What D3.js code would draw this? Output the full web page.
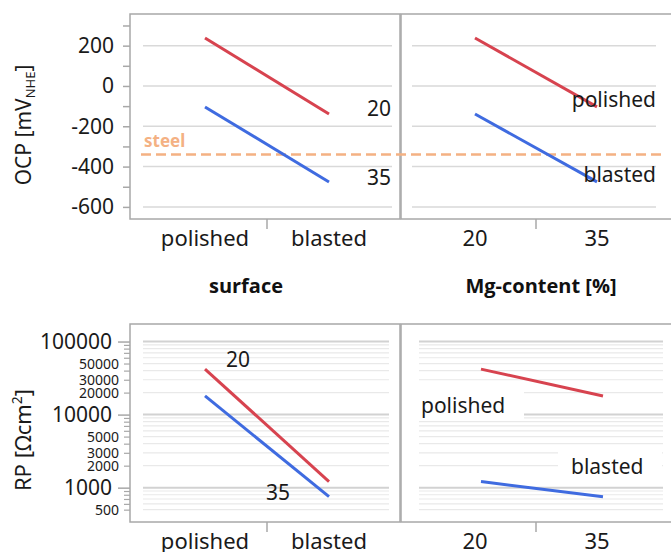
<!DOCTYPE html>
<html>
<head>
<meta charset="utf-8">
<script src="https://cdn.jsdelivr.net/npm/d3@7"></script>
<style>
  body { margin: 0; background: #fff; }
  svg { font-family: "Noto Sans", "Open Sans", sans-serif; }
</style>
</head>
<body>
<div id="chart"></div>
<script>
// data
var surfaces = ["polished", "blasted"];
var mgContents = ["20", "35"];
var ocpPolished = [238, -104];   // Mg 20, Mg 35
var ocpBlasted = [-139, -476];
var rpPolished = [41900, 18000];
var rpBlasted = [1210, 753];
var steelOcp = -340;
var ocpTicks = [-600, -500, -400, -300, -200, -100, 0, 100, 200, 300];
var ocpLabels = [-600, -400, -200, 0, 200];
var rpMajor = [1000, 10000, 100000];
var rpMinorLabels = [500, 2000, 3000, 5000, 20000, 30000, 50000];

var W = 671, H = 552;
var red = "#d7434f", blue = "#3f6be0", steelColor = "#f4b183";
var frameColor = "#a8a8a8";

var svg = d3.select("#chart").append("svg")
    .attr("width", W)
    .attr("height", H);

// panel boxes
var leftX = [130, 400], rightX = [401, 673];
var topY = [14, 219], botY = [324, 522];

// scales
var yOcp = d3.scaleLinear().domain([-660, 357]).range([topY[1], topY[0]]);
var yRp = d3.scaleLog().domain([Math.pow(10, 2.53), Math.pow(10, 5.24)]).range([botY[1], botY[0]]);
var xSurf = d3.scaleBand().domain(surfaces).range([143, 391]);
var xMg = d3.scaleBand().domain(mgContents).range([414, 658]);
var xMgLow = d3.scaleBand().domain(mgContents).range([420, 664]);

function cx(scale, d) { return scale(d) + scale.bandwidth() / 2; }

// gridlines
var rpGrid = [];
[100, 1000, 10000].forEach(function (dec) {
    for (var k = 1; k < 10; k++) {
        var v = dec * k;
        if (v >= 500 && v <= 100000) rpGrid.push(v);
    }
});
rpGrid.push(100000);

function ocpGrid(x0, x1) {
    svg.append("g").selectAll("line")
        .data(ocpLabels)
        .enter().append("line")
        .attr("x1", x0).attr("x2", x1)
        .attr("y1", function (d) { return yOcp(d); })
        .attr("y2", function (d) { return yOcp(d); })
        .attr("stroke", "#d9d9d9")
        .attr("stroke-width", 1.5);
}
function rpGridLines(x0, x1) {
    svg.append("g").selectAll("line")
        .data(rpGrid)
        .enter().append("line")
        .attr("x1", x0).attr("x2", x1)
        .attr("y1", function (d) { return yRp(d); })
        .attr("y2", function (d) { return yRp(d); })
        .attr("stroke", function (d) { return rpMajor.indexOf(d) >= 0 ? "#d2d2d2" : "#e9e9e9"; })
        .attr("stroke-width", function (d) { return rpMajor.indexOf(d) >= 0 ? 2 : 1.2; });
}
ocpGrid(143, 392);
ocpGrid(412, 656);
rpGridLines(143, 389);
rpGridLines(419, 663);

// frames
[[leftX, topY], [rightX, topY], [leftX, botY], [rightX, botY]].forEach(function (p) {
    svg.append("rect")
        .attr("x", p[0][0]).attr("y", p[1][0])
        .attr("width", p[0][1] - p[0][0])
        .attr("height", p[1][1] - p[1][0])
        .attr("fill", "none")
        .attr("stroke", frameColor)
        .attr("stroke-width", 1.5);
});

// x axis separator ticks
[[xSurf, topY], [xMg, topY], [xSurf, botY], [xMg, botY]].forEach(function (p) {
    var s = p[0];
    var mid = (cx(s, s.domain()[0]) + cx(s, s.domain()[1])) / 2;
    svg.append("line")
        .attr("x1", mid).attr("x2", mid)
        .attr("y1", p[1][1]).attr("y2", p[1][1] + 10)
        .attr("stroke", frameColor).attr("stroke-width", 1.5);
});

// x tick labels
function xLabels(scale, y) {
    svg.append("g").selectAll("text")
        .data(scale.domain())
        .enter().append("text")
        .attr("x", function (d) { return cx(scale, d); })
        .attr("y", y)
        .attr("text-anchor", "middle")
        .attr("font-size", 22)
        .attr("fill", "#1a1a1a")
        .text(function (d) { return d; });
}
xLabels(xSurf, 246);
xLabels(xMg, 246);
xLabels(xSurf, 549);
xLabels(xMg, 549);

// x titles
svg.append("text").attr("x", 246).attr("y", 293).attr("text-anchor", "middle")
    .attr("font-family", "Open Sans, sans-serif")
    .attr("font-size", 20).attr("font-weight", "bold").attr("fill", "#111").text("surface");
svg.append("text").attr("x", 541).attr("y", 293).attr("text-anchor", "middle")
    .attr("font-family", "Open Sans, sans-serif")
    .attr("font-size", 20).attr("font-weight", "bold").attr("fill", "#111").text("Mg-content [%]");

// OCP y axis
var ocpAxis = svg.append("g")
    .attr("transform", "translate(" + leftX[0] + ",0)")
    .call(d3.axisLeft(yOcp)
        .tickValues(ocpTicks)
        .tickSize(7)
        .tickPadding(9)
        .tickFormat(function (d) { return ocpLabels.indexOf(d) >= 0 ? String(d) : ""; }));
ocpAxis.select(".domain").remove();
ocpAxis.selectAll("line").attr("stroke", frameColor).attr("stroke-width", 1.5);
ocpAxis.selectAll("text").attr("font-size", 21).attr("fill", "#1a1a1a")
    .attr("font-family", "Noto Sans, sans-serif");

// RP y axis: minor then major
var rpMinorAxis = svg.append("g")
    .attr("transform", "translate(" + leftX[0] + ",0)")
    .call(d3.axisLeft(yRp)
        .tickValues(rpGrid.filter(function (d) { return rpMajor.indexOf(d) < 0; }))
        .tickSize(6)
        .tickPadding(5)
        .tickFormat(function (d) { return rpMinorLabels.indexOf(d) >= 0 ? String(d) : ""; }));
rpMinorAxis.select(".domain").remove();
rpMinorAxis.selectAll("line").attr("stroke", frameColor).attr("stroke-width", 1.2);
rpMinorAxis.selectAll("text").attr("font-size", 14).attr("fill", "#1a1a1a")
    .attr("font-family", "Noto Sans, sans-serif");

var rpMajorAxis = svg.append("g")
    .attr("transform", "translate(" + leftX[0] + ",0)")
    .call(d3.axisLeft(yRp)
        .tickValues(rpMajor)
        .tickSize(12)
        .tickPadding(6)
        .tickFormat(function (d) { return String(d); }));
rpMajorAxis.select(".domain").remove();
rpMajorAxis.selectAll("line").attr("stroke", frameColor).attr("stroke-width", 1.5);
rpMajorAxis.selectAll("text").attr("font-size", 21).attr("fill", "#1a1a1a")
    .attr("font-family", "Noto Sans, sans-serif");

// y titles
var t1 = svg.append("text")
    .attr("transform", "translate(31,125) rotate(-90)")
    .attr("text-anchor", "middle")
    .attr("font-size", 21)
    .attr("fill", "#1a1a1a");
t1.append("tspan").text("OCP [mV");
t1.append("tspan").attr("font-size", 13).attr("dy", 4).text("NHE");
t1.append("tspan").attr("dy", -4).text("]");

var t2 = svg.append("text")
    .attr("transform", "translate(31,440) rotate(-90)")
    .attr("text-anchor", "middle")
    .attr("font-size", 22)
    .attr("fill", "#1a1a1a");
t2.append("tspan").text("RP [\u03A9cm");
t2.append("tspan").attr("font-size", 14).attr("dy", -9).text("2");
t2.append("tspan").attr("dy", 9).text("]");

// steel reference line
svg.append("line")
    .attr("x1", 141).attr("x2", 665)
    .attr("y1", yOcp(steelOcp)).attr("y2", yOcp(steelOcp))
    .attr("stroke", steelColor)
    .attr("stroke-width", 2.5)
    .attr("stroke-dasharray", "10,5");
svg.append("text").attr("x", 144).attr("y", yOcp(steelOcp) - 7)
    .attr("font-size", 17).attr("font-weight", "bold").attr("fill", steelColor).text("steel");

// interaction lines
var line = d3.line();
function drawLine(pts, color) {
    svg.append("path")
        .attr("d", line(pts))
        .attr("fill", "none")
        .attr("stroke", color)
        .attr("stroke-width", 3);
}
// by surface, one line per Mg content
drawLine(surfaces.map(function (s, i) { return [cx(xSurf, s), yOcp([ocpPolished[0], ocpBlasted[0]][i])]; }), red);
drawLine(surfaces.map(function (s, i) { return [cx(xSurf, s), yOcp([ocpPolished[1], ocpBlasted[1]][i])]; }), blue);
drawLine(surfaces.map(function (s, i) { return [cx(xSurf, s), yRp([rpPolished[0], rpBlasted[0]][i])]; }), red);
drawLine(surfaces.map(function (s, i) { return [cx(xSurf, s), yRp([rpPolished[1], rpBlasted[1]][i])]; }), blue);
// by Mg content, one line per surface
drawLine(mgContents.map(function (m, i) { return [cx(xMg, m), yOcp(ocpPolished[i])]; }), red);
drawLine(mgContents.map(function (m, i) { return [cx(xMg, m), yOcp(ocpBlasted[i])]; }), blue);

// bottom-right labels with white boxes, drawn under the lines
svg.append("rect").attr("x", 412).attr("y", 389).attr("width", 112).attr("height", 31).attr("fill", "#fff");
svg.append("rect").attr("x", 558).attr("y", 452).attr("width", 104).attr("height", 29).attr("fill", "#fff");
drawLine(mgContents.map(function (m, i) { return [cx(xMgLow, m), yRp(rpPolished[i])]; }), red);
drawLine(mgContents.map(function (m, i) { return [cx(xMgLow, m), yRp(rpBlasted[i])]; }), blue);

// line labels
function label(x, y, txt, anchor) {
    svg.append("text").attr("x", x).attr("y", y)
        .attr("text-anchor", anchor || "start")
        .attr("dominant-baseline", "central")
        .attr("font-size", 21).attr("fill", "#1a1a1a").text(txt);
}
label(391, 108, "20", "end");
label(391, 177, "35", "end");
label(656, 99, "polished", "end");
label(656, 174, "blasted", "end");
label(226, 359, "20");
label(266, 492, "35");
label(421, 405, "polished");
label(571, 466, "blasted");
</script>
</body>
</html>
